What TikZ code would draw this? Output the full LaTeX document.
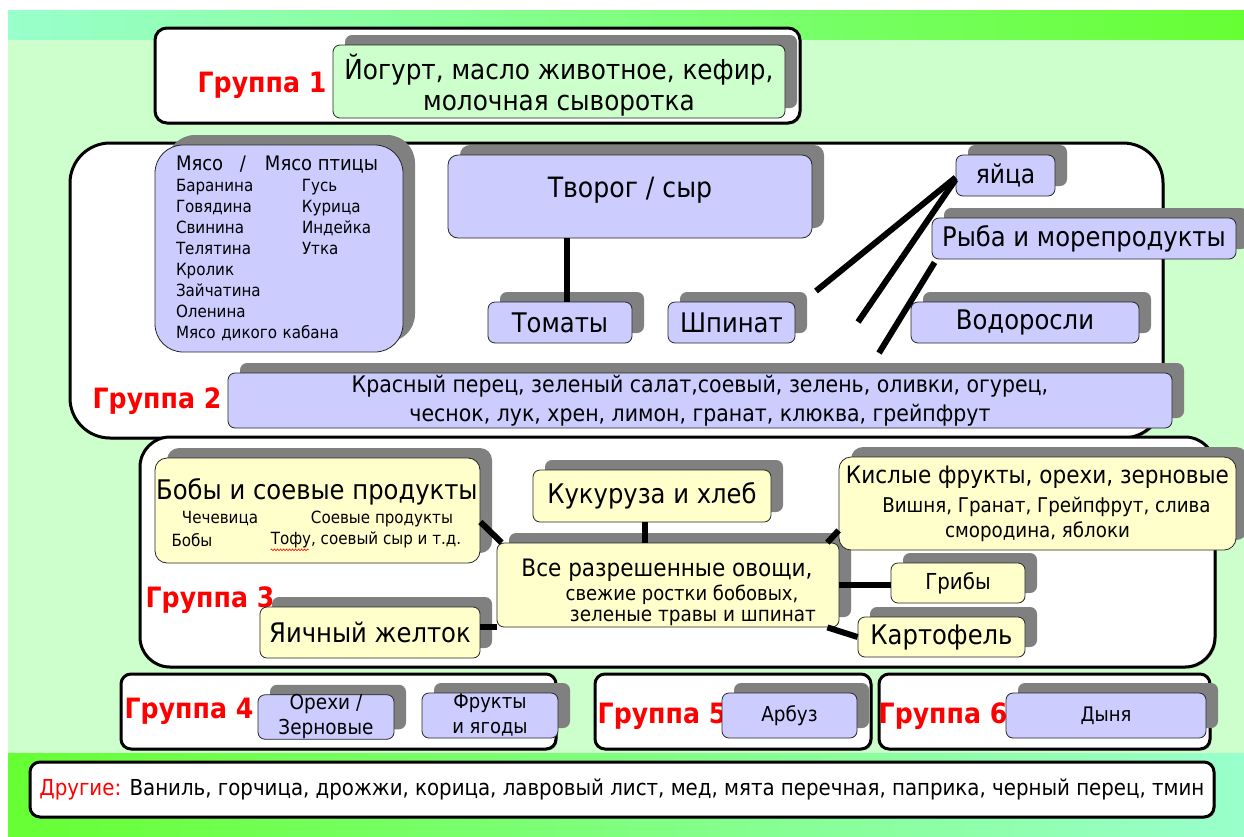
\documentclass[tikz,border=0pt]{standalone}
\usepackage{fontspec}
\setmainfont{DejaVu Sans Condensed}
\usetikzlibrary{shadows,decorations.pathmorphing}
\definecolor{lav}{HTML}{CCCCFF}
\definecolor{yel}{HTML}{FFFFCC}
\definecolor{lgreen}{HTML}{CCFFCC}
\definecolor{sgray}{HTML}{808080}
\definecolor{bandA}{HTML}{99FFCC}
\definecolor{bandB}{HTML}{66FF33}
\definecolor{gred}{HTML}{FF0000}
\newcommand\fs[2]{\fontsize{#1}{#2}\selectfont}
\begin{document}
\begin{tikzpicture}[x=1pt,y=-1pt,
 box/.style={draw=black!85, line width=0.8pt, rounded corners=7pt, inner sep=0pt, align=center,
   general shadow={fill=sgray, shadow xshift=12pt, shadow yshift=10pt}},
 lavbox/.style={box, fill=lav},
 yelbox/.style={box, fill=yel},
 grp/.style={draw=black, line width=3pt, fill=white, inner sep=0pt, align=center,
   general shadow={fill=black!35, shadow xshift=1.5pt, shadow yshift=-1.5pt}},
 glabel/.style={text=gred, font=\bfseries\fs{28}{32}, inner sep=0pt},
 conn/.style={line width=6pt, black},
 lbl/.style={inner sep=0pt, align=center},
]
\useasboundingbox (0,0) rectangle (1244,836);
\fill[white] (0,0) rectangle (1244,836);
\shade[left color=bandA, right color=bandB] (8,10) rectangle (1244,40);
\fill[lgreen] (8,40) rectangle (1244,753);
\shade[left color=bandB, right color=bandA] (8,753) rectangle (1244,836);

% ---------- Group 1
\node[grp, rounded corners=12pt, minimum width=645pt, minimum height=95pt] (g1) at (477.5,75.5) {};
\node[glabel] (lab1) at (262,85) {Группа 1};
\node[box, fill=lgreen, minimum width=452pt, minimum height=73pt] (y1) at (559,81.5) {};
\node[lbl, font=\fs{27.5}{31}] (y1t) at (559,85) {Йогурт, масло животное, кефир,\\молочная сыворотка};

% ---------- Group 2
\node[grp, rounded corners=40pt, minimum width=1093pt, minimum height=295pt] (g2) at (616.5,290.5) {};
\node[glabel] (lab2) at (157,401) {Группа 2};
\node[lavbox, rounded corners=28pt, minimum width=248pt, minimum height=207pt, align=left,
  text width=206pt, font=\fs{16.8}{21}] (meat) at (279,248.5)
  {{\fs{20}{21}\makebox[64pt][l]{Мясо}\makebox[25pt][l]{/}Мясо птицы}\\
   \makebox[126pt][l]{Баранина}Гусь\\
   \makebox[126pt][l]{Говядина}Курица\\
   \makebox[126pt][l]{Свинина}Индейка\\
   \makebox[126pt][l]{Телятина}Утка\\
   Кролик\\ Зайчатина\\ Оленина\\ Мясо дикого кабана};
\node[lavbox, rounded corners=10pt, minimum width=364pt, minimum height=83pt, text depth=18pt, font=\fs{28}{31}] (tvorog) at (630,196.5) {Творог / сыр};
\node[lavbox, minimum width=144pt, minimum height=41pt, font=\fs{27}{30}] (tomaty) at (560,322.5) {Томаты};
\node[lavbox, minimum width=127pt, minimum height=41pt, font=\fs{27}{30}] (shpinat) at (731.5,322.5) {Шпинат};
\node[lavbox, minimum width=99pt, minimum height=41pt, font=\fs{26}{30}] (yaitsa) at (1005.5,175.5) {яйца};
\node[lavbox, minimum width=304pt, minimum height=41pt, font=\fs{27}{30}] (ryba) at (1084,238.5) {Рыба и морепродукты};
\node[lavbox, minimum width=228pt, minimum height=41pt, font=\fs{27}{30}] (vodor) at (1025,322.5) {Водоросли};
\node[lavbox, minimum width=944pt, minimum height=55pt, font=\fs{22.8}{29}] (long) at (700,400.5)
  {Красный перец, зеленый салат,соевый, зелень, оливки, огурец,\\чеснок, лук, хрен, лимон, гранат, клюква, грейпфрут};

\coordinate (e1) at (816,291);
\coordinate (e2) at (858,322);
\coordinate (e3) at (879,353);
\draw[conn] ([xshift=7pt]tomaty.north) -- ([xshift=7pt]tomaty.north |- tvorog.south);
\draw[conn] ([yshift=-2pt]yaitsa.west) -- (e1);
\draw[conn] ([yshift=-4pt]yaitsa.west) -- (e2);
\draw[conn] ([xshift=3pt,yshift=-3pt]ryba.south west) -- (e3);

% ---------- Group 3
\node[grp, rounded corners=30pt, minimum width=1075pt, minimum height=230pt] (g3) at (677.5,552) {};
\node[glabel] (lab3) at (210,600) {Группа 3};
\node[yelbox, rounded corners=12pt, minimum width=325pt, minimum height=105pt] (boby) at (317.5,510.5) {};
\node[lbl, font=\fs{27}{31}] (bobyt) at (317,492) {Бобы и соевые продукты};
\node[lbl, font=\fs{16.8}{18}] (b1) at (220,519) {Чечевица};
\node[lbl, font=\fs{16.8}{18}] (b2) at (382,519) {Соевые продукты};
\node[lbl, font=\fs{16.8}{18}] (b3) at (192,540) {Бобы};
\node[lbl, font=\fs{16.8}{18}] (b4) at (366,540) {Тофу, соевый сыр и т.д.};
\draw[red, line width=0.6pt, decorate, decoration={snake, amplitude=0.9pt, segment length=3pt}]
  ([yshift=-1.5pt]b4.south west) -- ++(38,0);
\node[yelbox, minimum width=220pt, minimum height=51pt, font=\fs{27}{31}] (zheltok) at (370,632.5) {Яичный желток};
\node[yelbox, minimum width=238pt, minimum height=52pt, font=\fs{27}{31}] (kuk) at (652,496) {Кукуруза и хлеб};
\node[yelbox, minimum width=342pt, minimum height=84pt] (vse) at (668,585) {};
\node[lbl, font=\fs{24}{26}] (v1) at (667,570) {Все разрешенные овощи,};
\node[lbl, font=\fs{20}{22}] (v2) at (682,595) {свежие ростки бобовых,};
\node[lbl, font=\fs{20.5}{22}] (v3) at (693,618) {зеленые травы и шпинат};
\node[yelbox, rounded corners=12pt, minimum width=397pt, minimum height=93pt, font=\fs{20.3}{25}] (kisl) at (1037.5,503.5)
  {{\fs{24}{25}Кислые фрукты, орехи, зерновые}\\[4pt] \hspace*{18pt}Вишня, Гранат, Грейпфрут, слива\\ смородина, яблоки};
\node[yelbox, minimum width=134pt, minimum height=40pt, font=\fs{22}{24}] (griby) at (958,583) {Грибы};
\node[yelbox, minimum width=167pt, minimum height=40pt, font=\fs{27}{30}] (kart) at (941.5,637) {Картофель};

\draw[conn] ([yshift=-11.5pt]boby.east) -- ([xshift=5pt]vse.north west);
\draw[conn] (zheltok.east |- vse.south west) -- (vse.south west);
\draw[conn] ([xshift=-7pt]kuk.south) -- ([xshift=-7pt]kuk.south |- vse.north);
\draw[conn] ([xshift=-12pt]vse.north east) -- ([yshift=20pt]kisl.south west);
\draw[conn] (vse.east) -- (vse.east -| griby.west);
\draw[conn] ([xshift=-12pt]vse.south east) -- (kart.west);

% ---------- Groups 4-6
\node[grp, rounded corners=10pt, minimum width=435pt, minimum height=75pt] (g4) at (338.5,711.5) {};
\node[grp, rounded corners=10pt, minimum width=276pt, minimum height=75pt] (g5) at (733,711.5) {};
\node[grp, rounded corners=10pt, minimum width=331pt, minimum height=75pt] (g6) at (1044.5,711.5) {};
\node[glabel] (lab4) at (189,711) {Группа 4};
\node[glabel] (lab5) at (662,716) {Группа 5};
\node[glabel] (lab6) at (943,716) {Группа 6};
\node[lavbox, minimum width=136pt, minimum height=44pt, font=\fs{20.5}{25}] (orehi) at (326,717) {Орехи /\\Зерновые};
\node[lavbox, minimum width=136pt, minimum height=45pt, font=\fs{20}{25}] (frukty) at (490,715.5) {Фрукты\\и ягоды};
\node[lavbox, minimum width=135pt, minimum height=45pt, font=\fs{20.5}{24}] (arbuz) at (789.5,715.5) {Арбуз};
\node[lavbox, minimum width=200pt, minimum height=45pt, font=\fs{20}{24}] (dynya) at (1106,715.5) {Дыня};

% ---------- Others
\node[grp, rounded corners=10pt, minimum width=1184pt, minimum height=55pt, font=\fs{22}{24}] (other) at (622,789.5)
  {\textcolor{gred}{Другие:} Ваниль, горчица, дрожжи, корица, лавровый лист, мед, мята перечная, паприка, черный перец, тмин};
\end{tikzpicture}
\end{document}
